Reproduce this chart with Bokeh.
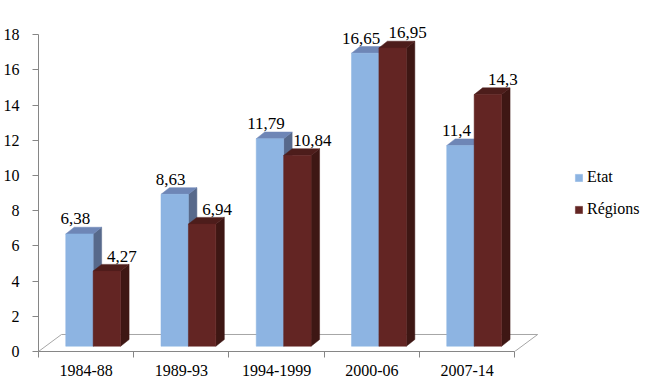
from bokeh.plotting import figure
from bokeh.models import Range1d, FixedTicker, Legend, LegendItem, ColumnDataSource
from bokeh.embed import file_html
from bokeh.resources import INLINE
from bokeh.core.properties import value

# ---- data ----
periods = ["1984-88", "1989-93", "1994-1999", "2000-06", "2007-14"]
etat = [6.38, 8.63, 11.79, 16.65, 11.4]
regions = [4.27, 6.94, 10.84, 16.95, 14.3]
etat_labels = ["6,38", "8,63", "11,79", "16,65", "11,4"]
regions_labels = ["4,27", "6,94", "10,84", "16,95", "14,3"]
y_ticks = [0, 2, 4, 6, 8, 10, 12, 14, 16, 18]

# ---- style / geometry constants (data units) ----
FONT = "Liberation Serif"
X_END = 6.373
Y_END = 18.92
BAR_BASE = 0.30      # front base of bars above front floor edge
BAR_X0 = 0.286       # left of first bar inside a category
BAR_W = 0.288
DX = 0.089           # depth offset (x)
DY = 0.38            # depth offset (y)
FLOOR_DX = 0.241
FLOOR_DY = 0.966

E_FRONT, E_TOP, E_SIDE = "#8DB4E2", "#6E86B6", "#57698B"
R_FRONT, R_TOP, R_SIDE = "#632523", "#4D1D1B", "#3E1714"

p = figure(width=650, height=383, output_backend="svg", toolbar_location=None,
           x_range=Range1d(0, X_END), y_range=Range1d(0, Y_END),
           min_border_left=37, min_border_right=5, min_border_top=18,
           min_border_bottom=32)
p.outline_line_color = None
p.xgrid.visible = False
p.ygrid.visible = False
p.background_fill_color = "white"

n = len(periods)
# floor
p.patch([0, n, n + FLOOR_DX, FLOOR_DX], [0, 0, FLOOR_DY, FLOOR_DY],
        fill_color="white", line_color="#a6a6a6", line_width=1)


def bar_series(vals, shift, front, top, side):
    lefts = [i + BAR_X0 + shift for i in range(n)]
    rights = [l + BAR_W for l in lefts]
    tops = [BAR_BASE + v for v in vals]
    side_xs = [[r, r + DX, r + DX, r] for r in rights]
    side_ys = [[BAR_BASE, BAR_BASE + DY, t + DY, t] for t in tops]
    top_xs = [[l, r, r + DX, l + DX] for l, r in zip(lefts, rights)]
    top_ys = [[t, t, t + DY, t + DY] for t in tops]
    p.patches(side_xs, side_ys, fill_color=side, line_color=side, line_width=0.5)
    p.patches(top_xs, top_ys, fill_color=top, line_color=top, line_width=0.5)
    r = p.quad(left=lefts, right=rights, bottom=[BAR_BASE] * n, top=tops,
               fill_color=front, line_color=front, line_width=0.5)
    return r, lefts, rights, tops


re_, el, er, et = bar_series(etat, 0.0, E_FRONT, E_TOP, E_SIDE)
rr_, rl, rrt, rt = bar_series(regions, BAR_W, R_FRONT, R_TOP, R_SIDE)

src_e = ColumnDataSource(dict(x=[(a + b) / 2 for a, b in zip(el, er)], y=et, t=etat_labels))
src_r = ColumnDataSource(dict(x=[(a + b) / 2 for a, b in zip(rl, rrt)], y=rt, t=regions_labels))
p.text(x="x", y="y", text="t", source=src_e, x_offset=-4, y_offset=-15,
       text_font=value(FONT), text_font_size="17px", text_color="black",
       text_align="center", text_baseline="alphabetic")
p.text(x="x", y="y", text="t", source=src_r, x_offset=15, y_offset=-15,
       text_font=value(FONT), text_font_size="17px", text_color="black",
       text_align="center", text_baseline="alphabetic")

# y axis
ya = p.yaxis[0]
ya.ticker = FixedTicker(ticks=y_ticks)
ya.bounds = (0, 18)
ya.axis_line_color = "#868686"
ya.major_tick_line_color = "#868686"
ya.major_tick_out = 6
ya.major_tick_in = 0
ya.minor_tick_line_color = None
ya.major_label_standoff = 13
ya.major_label_text_font = FONT
ya.major_label_text_font_size = "16px"
ya.major_label_text_color = "black"

# x axis
xa = p.xaxis[0]
centers = [i + 0.5 for i in range(n)]
xa.ticker = FixedTicker(ticks=centers, minor_ticks=list(range(n + 1)))
xa.major_label_overrides = {c: lab for c, lab in zip(centers, periods)}
xa.bounds = (0, n)
xa.axis_line_color = "#868686"
xa.major_tick_line_color = None
xa.major_tick_out = 0
xa.major_tick_in = 0
xa.minor_tick_line_color = "#868686"
xa.minor_tick_out = 6
xa.minor_tick_in = 0
xa.major_label_standoff = 7
xa.major_label_text_font = FONT
xa.major_label_text_font_size = "16px"
xa.major_label_text_color = "black"

legend = Legend(items=[LegendItem(label="Etat", renderers=[re_]),
                       LegendItem(label="Régions", renderers=[rr_])],
                location=(536, 132), padding=0, margin=0, spacing=12,
                glyph_width=9, glyph_height=9, label_standoff=4, label_height=20,
                label_text_font=FONT, label_text_font_size="16px",
                label_text_color="black",
                background_fill_alpha=0, border_line_alpha=0)
p.add_layout(legend)

open("out.html", "w").write(file_html(p, INLINE))
